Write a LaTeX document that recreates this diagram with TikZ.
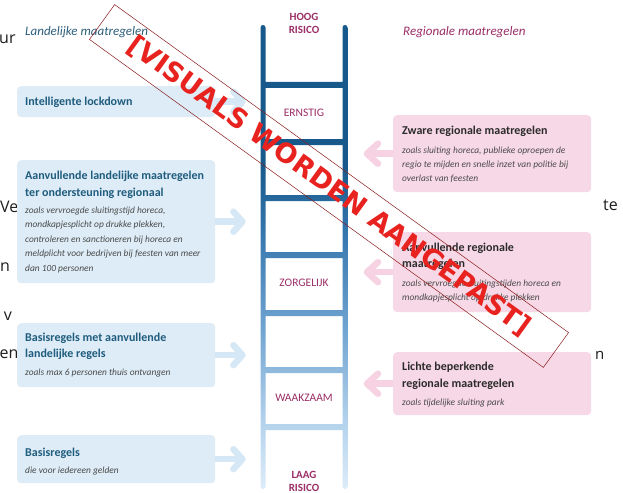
\documentclass[tikz,border=0pt]{standalone}
\usepackage{fontspec}
\setmainfont{Carlito}
\newfontfamily\wmfont{DejaVu Sans}
\newfontfamily\fragfont{Open Sans}
\usetikzlibrary{calc}

\definecolor{ladtop}{HTML}{17598A}
\definecolor{ladmid}{HTML}{3677AE}
\definecolor{ladmid2}{HTML}{6FA3D0}
\definecolor{ladlow}{HTML}{B2D1EC}
\definecolor{ladbot}{HTML}{DDECF8}
\definecolor{lblue}{HTML}{DDECF6}
\definecolor{lpink}{HTML}{F7D8E6}
\definecolor{arrblue}{HTML}{D6E8F5}
\definecolor{arrpink}{HTML}{F6D2E2}
\definecolor{plum}{HTML}{9A2E66}
\definecolor{tealt}{HTML}{1F5C7E}
\definecolor{headblue}{HTML}{2E5F7C}
\definecolor{subgray}{HTML}{4A4A4A}
\definecolor{rtitle}{HTML}{2B2B2B}
\definecolor{wmred}{HTML}{E8231F}
\definecolor{wmline}{HTML}{8A1C1C}
\definecolor{fragc}{HTML}{1E1E1E}

% TikZ maps the path onto 25bp..75bp of the shading
\pgfdeclareverticalshading{laddershade}{100bp}{color(0bp)=(ladbot); color(25bp)=(ladbot); color(32.5bp)=(ladlow); color(42.5bp)=(ladmid2); color(52.5bp)=(ladmid); color(60bp)=(ladtop); color(100bp)=(ladtop)}

\newcommand\rightarr[2]{%
  \draw[line width=6.5pt, #2] (#1) -- ($(#1)+(27,0)$);
  \draw[line width=6.5pt, #2, line cap=round, line join=round] ($(#1)+(18,10)$) -- ($(#1)+(27,0)$) -- ($(#1)+(18,-10)$);}
\newcommand\leftarr[2]{%
  \draw[line width=6.5pt, #2] (#1) -- ($(#1)+(-26,0)$);
  \draw[line width=6.5pt, #2, line cap=round, line join=round] ($(#1)+(-15,10)$) -- ($(#1)+(-26,0)$) -- ($(#1)+(-15,-10)$);}

\begin{document}
\begin{tikzpicture}[x=1pt,y=-1pt,
  lbox/.style={fill=lblue, rounded corners=4pt, anchor=north west, inner sep=0pt, minimum width=198pt},
  rbox/.style={fill=lpink, rounded corners=4pt, anchor=north west, inner sep=0pt, minimum width=198pt},
  ltitle/.style={anchor=base west, inner sep=0pt, align=left, text=tealt, font=\bfseries\fontsize{12}{17}\selectfont},
  rtitle/.style={anchor=base west, inner sep=0pt, align=left, text=rtitle, font=\bfseries\fontsize{12}{16.5}\selectfont},
  subtxt/.style={anchor=base west, inner sep=0pt, align=left, text=subgray, font=\itshape\fontsize{9.4}{14.3}\selectfont},
  lvl/.style={inner sep=0pt, text=plum, font=\fontsize{11.5}{13}\selectfont, align=center},
  lvlb/.style={inner sep=0pt, text=plum, font=\bfseries\fontsize{11}{13}\selectfont, align=center},
  frag/.style={inner sep=0pt, anchor=base west, text=fragc, font=\fragfont\fontsize{16}{16}\selectfont},
]
\useasboundingbox[fill=white] (0,0) rectangle (623,492);

% background fragments
\node[frag] (f1) at (-1,43.5) {ur};
\node[frag] (f2) at (0,212.5) {Ve};
\node[frag] (f3) at (0,271) {n};
\node[frag] (f4) at (-6,320) {t v};
\node[frag] (f5) at (-0.5,358) {en};
\node[frag] (f6) at (603,210) {te};
\node[frag, font=\fragfont\fontsize{15}{15}\selectfont] (f7) at (595,359) {n};

% headings
\node[anchor=base west, inner sep=0pt, text=headblue, font=\itshape\fontsize{13}{15}\selectfont] (hl) at (25,35.5) {Landelijke maatregelen};
\node[anchor=base west, inner sep=0pt, text=plum, font=\itshape\fontsize{13}{15}\selectfont] (hr) at (403,35.5) {Regionale maatregelen};

% ladder
\shade[shading=laddershade, rounded corners=2.5pt]
  (260.5,25) rectangle (265.5,489)
  (342.5,25) rectangle (347.5,489)
  (263,82) rectangle (345,88)
  (263,139) rectangle (345,145)
  (263,195) rectangle (345,201)
  (263,252) rectangle (345,258)
  (263,310) rectangle (345,316)
  (263,367) rectangle (345,373)
  (263,424) rectangle (345,430);

\node[lvlb] (hoog) at (304,23.5) {HOOG\\RISICO};
\node[lvl] (ernstig) at (304,113) {ERNSTIG};
\node[lvl] (zorg) at (304,283) {ZORGELIJK};
\node[lvl] (waak) at (304,398) {WAAKZAAM};
\node[lvlb] (laag) at (304,481.5) {LAAG\\RISICO};

% left boxes
\node[lbox, minimum height=31pt] (L1) at (17,86) {};
\node[lbox, minimum height=123pt] (L2) at (17,160) {};
\node[lbox, minimum height=64pt] (L3) at (17,323) {};
\node[lbox, minimum height=48pt] (L4) at (17,435) {};

\node[ltitle] (L1t) at (25,105.5) {Intelligente lockdown};
\node[ltitle] (L2t) at (25,179) {Aanvullende landelijke maatregelen};
\node[ltitle] (L2t2) at (25,196) {ter ondersteuning regionaal};
\node[subtxt] (L2s) at (25,213) {zoals vervroegde sluitingstijd horeca,};
\node[subtxt] (L2s2) at (25,227.5) {mondkapjesplicht op drukke plekken,};
\node[subtxt] (L2s3) at (25,242) {controleren en sanctioneren bij horeca en};
\node[subtxt] (L2s4) at (25,256.5) {meldplicht voor bedrijven bij feesten van meer};
\node[subtxt] (L2s5) at (25,271) {dan 100 personen};
\node[ltitle] (L3t) at (25,341) {Basisregels met aanvullende};
\node[ltitle] (L3t2) at (25,357) {landelijke regels};
\node[subtxt] (L3s) at (25,375.5) {zoals max 6 personen thuis ontvangen};
\node[ltitle] (L4t) at (25,456) {Basisregels};
\node[subtxt] (L4s) at (25,473) {die voor iedereen gelden};

% right boxes
\node[rbox, minimum height=77pt] (R1) at (393,115) {};
\node[rbox, minimum height=80pt] (R2) at (393,232) {};
\node[rbox, minimum height=63pt] (R3) at (393,352) {};

\node[rtitle] (R1t) at (402,134) {Zware regionale maatregelen};
\node[subtxt] (R1s) at (402,153) {zoals sluiting horeca, publieke oproepen de};
\node[subtxt] (R1s2) at (402,167) {regio te mijden en snelle inzet van politie bij};
\node[subtxt] (R1s3) at (402,181) {overlast van feesten};
\node[rtitle] (R2t) at (402,251) {Aanvullende regionale};
\node[rtitle] (R2t2) at (402,267) {maatregelen};
\node[subtxt] (R2s) at (402,286) {zoals vervroegde sluitingstijden horeca en};
\node[subtxt] (R2s2) at (402,300) {mondkapjesplicht op drukke plekken};
\node[rtitle] (R3t) at (402,370) {Lichte beperkende};
\node[rtitle] (R3t2) at (402,387) {regionale maatregelen};
\node[subtxt] (R3s) at (402,405) {zoals tijdelijke sluiting park};

% arrows
\rightarr{L1.east}{arrblue}
\rightarr{L2.east}{arrblue}
\rightarr{L3.east}{arrblue}
\rightarr{L4.east}{arrblue}
\leftarr{R1.west}{arrpink}
\leftarr{R2.west}{arrpink}
\leftarr{R3.west}{arrpink}

% watermark
\node[rotate=-35.85, draw=wmline, line width=0.5pt, minimum width=560pt, minimum height=43pt, inner sep=0pt,
  text=wmred, font=\wmfont\bfseries\fontsize{27}{27}\selectfont] (wm) at (329,186) {[VISUALS WORDEN AANGEPAST]};
\end{tikzpicture}
\end{document}
